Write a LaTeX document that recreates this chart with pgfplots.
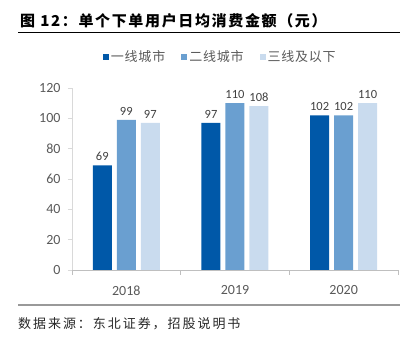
\documentclass[border=0pt]{standalone}
\usepackage{pgfplots}
\pgfplotsset{compat=1.18}
\usepackage{fontspec}
\setmainfont{Carlito}
\newfontfamily\cjk{Noto Sans CJK SC}
\newfontfamily\cjkt[LetterSpace=11]{Noto Sans CJK SC}
\newfontfamily\cjkl[LetterSpace=6]{Noto Sans CJK SC}
\newfontfamily\cjks[LetterSpace=15]{Noto Sans CJK SC}
\definecolor{c1}{HTML}{0058A8}
\definecolor{c2}{HTML}{6A9FD0}
\definecolor{c3}{HTML}{C9DBEE}
\definecolor{tx}{HTML}{595959}
\begin{document}
\begin{tikzpicture}[x=1pt,y=1pt]
\path[use as bounding box] (0,0) rectangle (408,343);
\node[anchor=base west, inner sep=0, font=\cjkt\bfseries\fontsize{15}{17}\selectfont] at (20,316) {图\ 12：单个下单用户日均消费金额（元）};
\draw[black, line width=0.8pt] (18,311) -- (400,311);
\begin{axis}[
  at={(72pt,73pt)}, anchor=south west,
  scale only axis, width=326pt, height=182pt,
  xmin=-0.5, xmax=2.5, ymin=0, ymax=120,
  ybar=5pt, bar width=19pt,
  axis x line*=bottom, axis y line*=left,
  x axis line style={draw=black!25, line width=0.8pt},
  y axis line style={draw=black!15, line width=0.8pt},
  xtick={0,1,2}, xticklabels={2018,2019,2020},
  minor xtick={-0.5,0.5,1.5,2.5},
  xtick style={draw=none},
  minor x tick style={draw=black!25, line width=0.8pt},
  minor tick length=5pt,
  ytick={0,20,...,120},
  ytick style={draw=black!15, line width=0.8pt},
  tick align=outside, major tick length=4pt,
  xticklabel style={yshift=-8pt},
  yticklabel style={xshift=-4pt},
  ticklabel style={font=\fontsize{14}{16}\selectfont, color=tx},
  /pgf/number format/assume math mode=true,
  nodes near coords,
  every node near coord/.append style={font=\fontsize{12.5}{14}\selectfont, color=black!75, yshift=1pt},
  legend style={at={(0.455,1.17)}, anchor=center, draw=none, fill=none,
    legend columns=3, font=\cjkl\fontsize{13}{15}\selectfont, text=tx,
    /tikz/every even column/.append style={column sep=14pt}},
  legend cell align=left,
  clip=false,
]
\addplot[fill=c1, draw=none, legend image code/.code={\fill[c1] (-2pt,-3pt) rectangle (4pt,3pt);}] coordinates {(0,69) (1,97) (2,102)};
\addplot[fill=c2, draw=none, legend image code/.code={\fill[c2] (-2pt,-3pt) rectangle (4pt,3pt);}] coordinates {(0,99) (1,110) (2,102)};
\addplot[fill=c3, draw=none, legend image code/.code={\fill[c3] (-2pt,-3pt) rectangle (4pt,3pt);}] coordinates {(0,97) (1,108) (2,110)};
\legend{一线城市,二线城市,三线及以下}
\end{axis}
\draw[black!40, line width=1.3pt] (18,38) -- (400,38);
\node[anchor=base west, inner sep=0, font=\cjks\fontsize{13}{15}\selectfont, color=black!85] at (18,14) {数据来源：东北证券，招股说明书};
\end{tikzpicture}
\end{document}
